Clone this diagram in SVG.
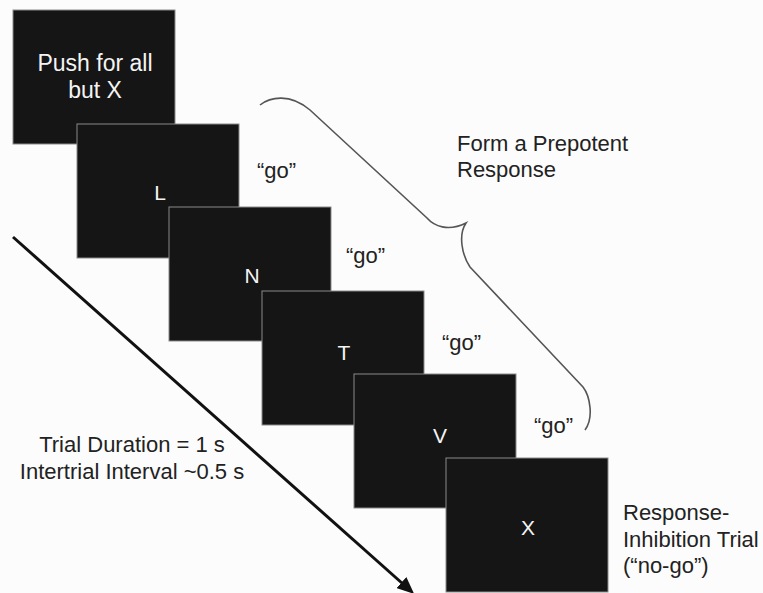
<svg xmlns="http://www.w3.org/2000/svg" width="763" height="593" viewBox="0 0 763 593">
<style>
.bg{fill:#fcfcfc}
.box{fill:#151515;stroke:#8a8a8a;stroke-width:1}
.bt{fill:#f4f4f4;font-family:"Liberation Sans",Arial,sans-serif;font-size:21px;text-anchor:middle}
.lbl{fill:#222;font-family:"Liberation Sans",Arial,sans-serif;font-size:22px}
.mid{text-anchor:middle}
.brace{fill:none;stroke:#555;stroke-width:1.6}
.arrow{fill:none;stroke:#111;stroke-width:3}
</style>
<defs>
<marker id="ah" viewBox="0 0 16 14" refX="2" refY="7" markerWidth="17" markerHeight="15" orient="auto" markerUnits="userSpaceOnUse">
<path d="M0,0 L16,7 L0,14 z" fill="#111"/>
</marker>
</defs>
<rect class="bg" x="0" y="0" width="763" height="593"/>
<g id="connectors">
<line class="arrow" x1="13" y1="237" x2="403" y2="584" marker-end="url(#ah)"/>
<path id="brace" class="brace" d="M260,105 C270,97 290,93 310,110 L427,218 C434,226 448,232 466,223 C458,235 462,255 470,267 L583,387 C590,396 594,418 585,430"/>
</g>
<g id="box-instr">
<rect class="box" x="13" y="10" width="162" height="134"/>
<text class="bt" x="95" y="71" style="font-size:23px">Push for all</text>
<text class="bt" x="95" y="98" style="font-size:23px">but X</text>
</g>
<g id="box-L">
<rect class="box" x="77" y="124" width="162" height="134"/>
<text class="bt" x="160" y="200">L</text>
</g>
<g id="box-N">
<rect class="box" x="169" y="207" width="162" height="134"/>
<text class="bt" x="252" y="283">N</text>
</g>
<g id="box-T">
<rect class="box" x="262" y="291" width="162" height="134"/>
<text class="bt" x="344" y="360">T</text>
</g>
<g id="box-V">
<rect class="box" x="354" y="374" width="162" height="134"/>
<text class="bt" x="440" y="443">V</text>
</g>
<g id="box-X">
<rect class="box" x="446" y="458" width="162" height="134"/>
<text class="bt" x="528" y="535">X</text>
</g>
<g id="labels">
<text class="lbl" x="257" y="178">“go”</text>
<text class="lbl" x="346" y="263">“go”</text>
<text class="lbl" x="442" y="350">“go”</text>
<text class="lbl" x="534" y="433">“go”</text>
<text class="lbl" x="457" y="151">Form a Prepotent</text>
<text class="lbl" x="457" y="177">Response</text>
<text class="lbl mid" x="132" y="452">Trial Duration = 1 s</text>
<text class="lbl mid" x="132" y="479">Intertrial Interval ~0.5 s</text>
<text class="lbl" x="623" y="520">Response-</text>
<text class="lbl" x="623" y="547">Inhibition Trial</text>
<text class="lbl" x="623" y="573">(“no-go”)</text>
</g>
</svg>
